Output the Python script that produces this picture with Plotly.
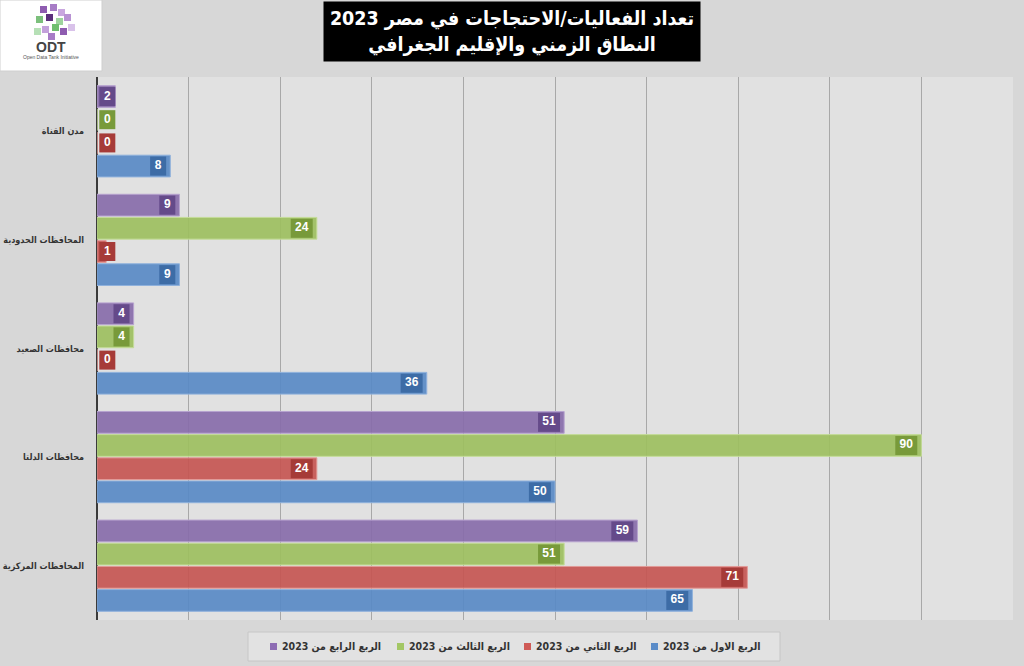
import plotly.graph_objects as go

# ---------------- data ----------------
categories = ["مدن القناة", "المحافظات الحدودية", "محافظات الصعيد", "محافظات الدلتا", "المحافظات المركزية"]
series_names = ["الربع الاول من 2023", "الربع الثاني من 2023", "الربع الثالث من 2023", "الربع الرابع من 2023"]
q1_values = [8, 9, 36, 50, 65]
q2_values = [0, 1, 0, 24, 71]
q3_values = [0, 24, 4, 90, 51]
q4_values = [2, 9, 4, 51, 59]
title_line1 = "تعداد الفعاليات/الاحتجاجات في مصر 2023"
title_line2 = "النطاق الزمني والإقليم الجغرافي"

# ---------------- styling ----------------
W, H = 1024, 666
L, R, T, B = 97, 11, 77, 46
PW, PH = W - L - R, H - T - B
AR_FONT = "DejaVu Sans Condensed"

def px_x(px):
    return (px - L) / PW

def px_y(py):
    return (H - B - py) / PH

RLE, PDF = "\u202B", "\u202C"

series = [q1_values, q2_values, q3_values, q4_values]
bar_colors = ["rgba(89,138,198,0.92)", "rgba(198,86,82,0.92)", "rgba(157,191,96,0.92)", "rgba(136,108,170,0.92)"]
edge_colors = ["#8fb1dc", "#e19a97", "#c4dc98", "#b7a3cf"]
box_colors = ["#3d6ca6", "#a63b38", "#789a3a", "#654a8a"]
legend_colors = ["#5b8cc8", "#cf5a56", "#a3c765", "#8d6cb3"]
offsets = [0.32, 0.107, -0.107, -0.32]   # reversed axis: positive = lower

BAR_W = 0.2
BOX_H = 0.175
GAP = 0.45
MIN_RIGHT = 2.0

fig = go.Figure()

for k, vals in enumerate(series):
    ys = [i + offsets[k] for i in range(len(categories))]
    fig.add_trace(go.Bar(
        orientation="h", x=vals, y=ys, width=BAR_W, name=series_names[k],
        marker=dict(color=bar_colors[k], line=dict(color=edge_colors[k], width=1)),
        hoverinfo="x+name", showlegend=False,
    ))

for k, vals in enumerate(series):
    ys = [i + offsets[k] for i in range(len(categories))]
    rights = [max(v - GAP, MIN_RIGHT) for v in vals]
    widths = [1.75 if len(str(v)) == 1 else 2.4 for v in vals]
    lefts = [r - w for r, w in zip(rights, widths)]
    fig.add_trace(go.Bar(
        orientation="h", base=lefts, x=widths, y=ys, width=BOX_H,
        marker=dict(color=box_colors[k], line=dict(width=0)),
        showlegend=False, hoverinfo="skip",
    ))
    fig.add_trace(go.Scatter(
        x=[l + w / 2 for l, w in zip(lefts, widths)], y=ys, mode="text",
        text=[str(v) for v in vals],
        textfont=dict(color="white", size=12, family="Liberation Sans", weight="bold"),
        showlegend=False, hoverinfo="skip",
    ))

shapes = []
# logo box
shapes.append(dict(type="rect", xref="paper", yref="paper", x0=px_x(0), x1=px_x(102), y0=px_y(71), y1=px_y(0),
                   fillcolor="white", line=dict(color="#cfcfcf", width=1), layer="above"))
cubes = [(40, 6, "#8e5cb0"), (50, 4, "#a77cc6"), (58, 9, "#c9a7df"), (36, 16, "#7cc07c"), (46, 14, "#5b2f7c"),
         (56, 18, "#9ed49e"), (64, 14, "#b892d3"), (42, 26, "#c3a1db"), (52, 24, "#6fbf6f"), (60, 28, "#8e5cb0"),
         (68, 24, "#d9c2ea"), (48, 33, "#a77cc6"), (34, 28, "#b6e0b6")]
for cx, cy, col in cubes:
    shapes.append(dict(type="rect", xref="paper", yref="paper", x0=px_x(cx), x1=px_x(cx + 7),
                       y0=px_y(cy + 7), y1=px_y(cy), fillcolor=col, line=dict(width=0), layer="above"))

# legend box (custom, right-to-left order like the reference)
shapes.append(dict(type="rect", xref="paper", yref="paper", x0=px_x(248), x1=px_x(780), y0=px_y(661), y1=px_y(632),
                   fillcolor="#e2e2e2", line=dict(color="#c6c6c6", width=1), layer="above"))

annotations = [
    dict(xref="paper", yref="paper", x=px_x(512), y=px_y(1), xanchor="center", yanchor="top",
         text="<b>" + RLE + title_line1 + PDF + "<br>" + RLE + title_line2 + PDF + "</b>",
         showarrow=False, bgcolor="black", width=374, height=57, borderpad=1,
         font=dict(color="white", size=19.5, family=AR_FONT)),
    dict(xref="paper", yref="paper", x=px_x(51), y=px_y(47), xanchor="center", yanchor="middle",
         text="<b>ODT</b>", showarrow=False, font=dict(size=14, color="#444", family="Liberation Sans")),
    dict(xref="paper", yref="paper", x=px_x(51), y=px_y(57), xanchor="center", yanchor="middle",
         text="Open Data Tank Initiative", showarrow=False, font=dict(size=5, color="#555", family="Liberation Sans")),
]

legend_order = [3, 2, 1, 0]
for slot, k in enumerate(legend_order):
    mx = 270 + slot * 127
    shapes.append(dict(type="rect", xref="paper", yref="paper", x0=px_x(mx), x1=px_x(mx + 7),
                       y0=px_y(650), y1=px_y(643), fillcolor=legend_colors[k], line=dict(width=0), layer="above"))
    annotations.append(dict(xref="paper", yref="paper", x=px_x(mx + 10), y=px_y(646.5), xanchor="left",
                            yanchor="middle", showarrow=False,
                            text="<b>" + RLE + series_names[k] + PDF + "</b>",
                            font=dict(size=10.5, color="#333", family=AR_FONT)))

fig.update_layout(
    width=W, height=H,
    margin=dict(l=L, r=R, t=T, b=B, autoexpand=False),
    barmode="overlay",
    paper_bgcolor="#d7d7d7",
    plot_bgcolor="#e1e1e1",
    font=dict(family=AR_FONT, color="#3a3a3a"),
    xaxis=dict(range=[0, 100], dtick=10, showticklabels=False, showgrid=True, gridcolor="#a8a8a8", gridwidth=1,
               zeroline=True, zerolinecolor="#3a3a3a", zerolinewidth=2, fixedrange=True, automargin=False),
    yaxis=dict(range=[4.5, -0.5], tickmode="array", tickvals=list(range(len(categories))),
               ticktext=["<b>" + RLE + c + PDF + "</b>" for c in categories], showgrid=False, zeroline=False,
               tickfont=dict(size=9, color="#333333", family=AR_FONT), ticklabelstandoff=12,
               automargin=False),
    shapes=shapes,
    annotations=annotations,
    showlegend=False,
)

fig.write_html("out.html")
